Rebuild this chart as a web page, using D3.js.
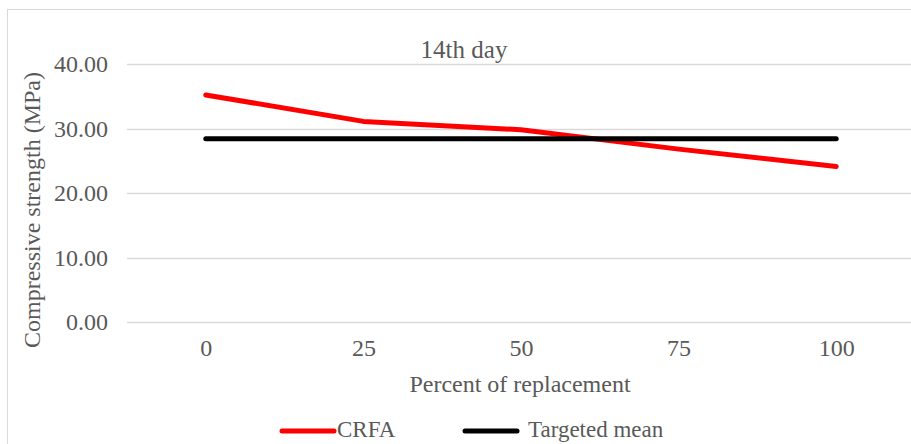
<!DOCTYPE html>
<html><head><meta charset="utf-8">
<script src="https://cdn.jsdelivr.net/npm/d3@7"></script>
<style>html,body{margin:0;padding:0;background:#fff;overflow:hidden}svg{display:block}</style>
</head><body>
<svg id="c" width="911" height="444"></svg>
<script>
const categories = ["0", "25", "50", "75", "100"];
const crfa = [35.2, 31.1, 29.8, 26.8, 24.1];
const targetedMean = [28.4, 28.4, 28.4, 28.4, 28.4];
const yTicks = [0, 10, 20, 30, 40];
const seriesNames = ["CRFA", "Targeted mean"];
const seriesColors = ["#ff0000", "#000000"];

const svg = d3.select("#c");
const font = "'Liberation Serif', 'Times New Roman', serif";
const textColor = "#595959";

svg.append("rect").attr("x", 7.5).attr("y", 9.5).attr("width", 960).attr("height", 500)
  .attr("fill", "#fff").attr("stroke", "#d9d9d9").attr("stroke-width", 1);

const x = d3.scalePoint().domain(categories).range([127, 915]).padding(0.5);
const y = d3.scaleLinear().domain([0, 40]).range([322, 64]);

// gridlines
svg.append("g").selectAll("line").data(yTicks).join("line")
  .attr("x1", 127).attr("x2", 915)
  .attr("y1", d => Math.round(y(d)) + 0.5).attr("y2", d => Math.round(y(d)) + 0.5)
  .attr("stroke", "#d9d9d9").attr("stroke-width", 1.5);

// y axis labels
const yAxis = d3.axisLeft(y).tickValues(yTicks).tickFormat(d3.format(".2f")).tickSize(0).tickPadding(0);
const yg = svg.append("g").attr("transform", "translate(108,0)").call(yAxis);
yg.select(".domain").remove();
yg.selectAll("text").attr("font-family", font).attr("font-size", 24).attr("fill", textColor);

// x axis labels
const xAxis = d3.axisBottom(x).tickSize(0).tickPadding(0);
const xg = svg.append("g").attr("transform", "translate(0,339)").call(xAxis);
xg.select(".domain").remove();
xg.selectAll("text").attr("font-family", font).attr("font-size", 24).attr("fill", textColor);

const line = d3.line().x((d, i) => x(categories[i])).y(d => y(d));
[crfa, targetedMean].forEach((s, k) => {
  svg.append("path").datum(s).attr("d", line)
    .attr("fill", "none").attr("stroke", seriesColors[k]).attr("stroke-width", 5)
    .attr("stroke-linecap", "round").attr("stroke-linejoin", "round");
});

// title
svg.append("text").attr("x", 464).attr("y", 58).attr("text-anchor", "middle")
  .attr("font-family", font).attr("font-size", 25).attr("fill", textColor).text("14th day");

// axis titles
svg.append("text").attr("x", 520).attr("y", 392).attr("text-anchor", "middle")
  .attr("font-family", font).attr("font-size", 24).attr("fill", textColor).text("Percent of replacement");
svg.append("text").attr("transform", "translate(40,210) rotate(-90)").attr("text-anchor", "middle")
  .attr("font-family", font).attr("font-size", 24).attr("fill", textColor).text("Compressive strength (MPa)");

// legend
const legendItems = [{x: 282, tx: 337}, {x: 465, tx: 528}];
seriesNames.forEach((n, i) => {
  const it = legendItems[i];
  svg.append("line").attr("x1", it.x).attr("x2", it.x + 52).attr("y1", 431).attr("y2", 431)
    .attr("stroke", seriesColors[i]).attr("stroke-width", 5).attr("stroke-linecap", "round");
  svg.append("text").attr("x", it.tx).attr("y", 437)
    .attr("font-family", font).attr("font-size", 23).attr("fill", textColor).text(n);
});
</script>
</body></html>
